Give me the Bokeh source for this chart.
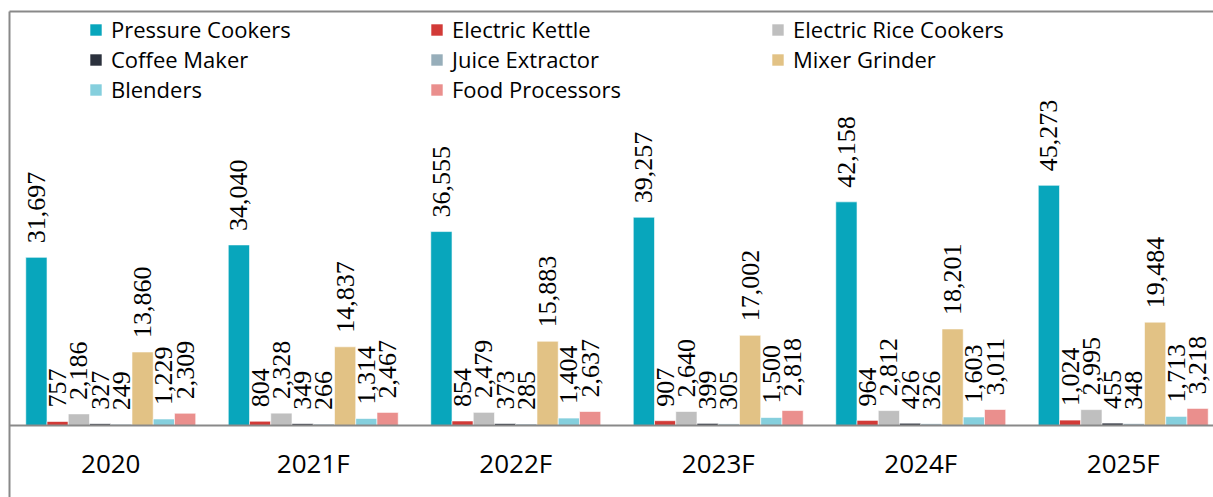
import math
from bokeh.plotting import figure
from bokeh.models import (Range1d, FixedTicker, Legend, LegendItem, LinearAxis,
                          ColumnDataSource, LabelSet)
from bokeh.embed import file_html
from bokeh.resources import INLINE

years = ["2020", "2021F", "2022F", "2023F", "2024F", "2025F"]
series = ["Pressure Cookers", "Electric Kettle", "Electric Rice Cookers",
          "Coffee Maker", "Juice Extractor", "Mixer Grinder",
          "Blenders", "Food Processors"]
colors = ["#08A6BC", "#D23A37", "#BFBFBF", "#2B313D", "#97AEBA",
          "#E2C285", "#85CFDD", "#EA8F8D"]

pressure_cookers = [31697, 34040, 36555, 39257, 42158, 45273]
electric_kettle = [757, 804, 854, 907, 964, 1024]
electric_rice_cookers = [2186, 2328, 2479, 2640, 2812, 2995]
coffee_maker = [327, 349, 373, 399, 426, 455]
juice_extractor = [249, 266, 285, 305, 326, 348]
mixer_grinder = [13860, 14837, 15883, 17002, 18201, 19484]
blenders = [1229, 1314, 1404, 1500, 1603, 1713]
food_processors = [2309, 2467, 2637, 2818, 3011, 3218]

values = [pressure_cookers, electric_kettle, electric_rice_cookers, coffee_maker,
          juice_extractor, mixer_grinder, blenders, food_processors]

FONT = "Open Sans"
GRAY = "#898989"
W, H = 1213, 497
LEFT, TOP = 9, 11
BASE = 425          # pixel row of the zero line
UNITS_PER_PX = 188.5
band_px = 202.5
bw = 0.1049

p = figure(width=W, height=H, output_backend="svg", toolbar_location=None,
           x_range=Range1d(-0.5, -0.5 + (W - LEFT) / band_px),
           y_range=Range1d(-(H - BASE) * UNITS_PER_PX, (BASE - TOP) * UNITS_PER_PX),
           min_border_left=LEFT, min_border_right=0, min_border_top=TOP,
           min_border_bottom=0, background_fill_color="white",
           border_fill_color="white", outline_line_color=None)
p.xgrid.visible = False
p.ygrid.visible = False

# x axis at baseline
xa = p.xaxis[0]
xa.ticker = FixedTicker(ticks=list(range(len(years))))
xa.major_label_overrides = {i: y for i, y in enumerate(years)}
xa.fixed_location = 0
xa.axis_line_color = GRAY
xa.axis_line_width = 2
xa.major_tick_line_color = None
xa.minor_tick_line_color = None
xa.major_label_text_font = FONT
xa.major_label_text_font_size = "26px"
xa.major_label_text_color = "#000000"
xa.major_label_standoff = 13

ya = p.yaxis[0]
ya.ticker = FixedTicker(ticks=[])
ya.axis_line_color = GRAY
ya.axis_line_width = 2
ya.major_tick_line_color = None
ya.minor_tick_line_color = None
ya.major_label_standoff = 0

top_axis = LinearAxis(ticker=FixedTicker(ticks=[]), axis_line_color=GRAY,
                      axis_line_width=2, major_tick_line_color=None,
                      minor_tick_line_color=None, major_label_standoff=0)
p.add_layout(top_axis, "above")

items = []
for i, (name, vals, col) in enumerate(zip(series, values, colors)):
    xs = [j + (i - 3.5) * bw for j in range(len(years))]
    src = ColumnDataSource(dict(x=xs, top=vals,
                                label=[f"{v:,}" for v in vals]))
    r = p.vbar(x="x", top="top", bottom=0, width=bw, source=src,
               fill_color=col, line_color="white", line_width=0.6)
    labels = LabelSet(x="x", y="top", text="label", source=src,
                      angle=math.pi / 2, text_align="left",
                      text_baseline="middle", y_offset=14,
                      text_font=FONT, text_font_size="26px",
                      text_color="#000000")
    p.add_layout(labels)
    items.append(LegendItem(label=name, renderers=[r]))

legend = Legend(items=items, orientation="horizontal", ncols=3,
                location=(79, 393), padding=0, margin=0, spacing=0,
                glyph_width=15, glyph_height=15, label_standoff=8,
                label_width=318, label_height=29,
                label_text_font=FONT, label_text_font_size="22px",
                label_text_color="#000000",
                background_fill_alpha=0, border_line_color=None)
p.add_layout(legend, "center")

open("out.html", "w").write(file_html(p, INLINE))
